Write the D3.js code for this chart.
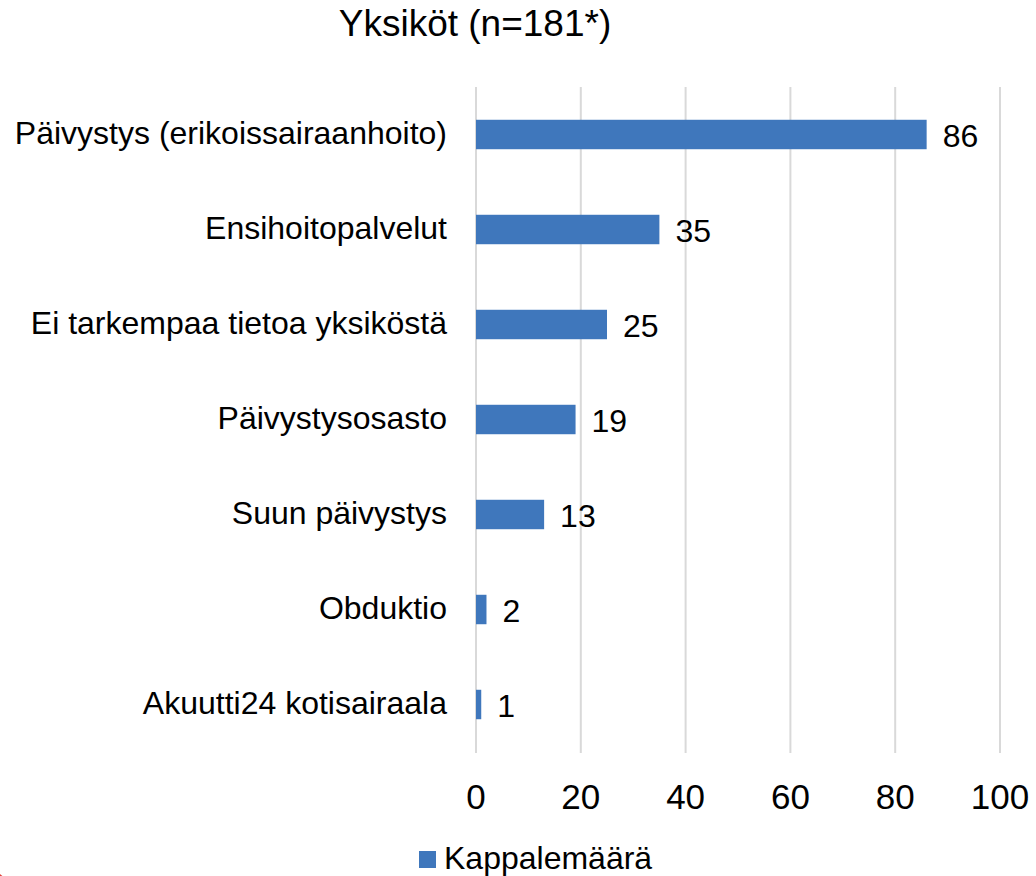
<!DOCTYPE html>
<html>
<head>
<meta charset="utf-8">
<script src="https://cdn.jsdelivr.net/npm/d3@7"></script>
<style>
  body { margin: 0; background: #fff; }
  svg { display: block; font-family: "Liberation Sans", Arial, sans-serif; }
</style>
</head>
<body>
<div id="chart"></div>
<script>
// Yksiköt: kappalemäärä per yksikkö
const categories = [
  'Päivystys (erikoissairaanhoito)',
  'Ensihoitopalvelut',
  'Ei tarkempaa tietoa yksiköstä',
  'Päivystysosasto',
  'Suun päivystys',
  'Obduktio',
  'Akuutti24 kotisairaala'
];
const counts = [86, 35, 25, 19, 13, 2, 1];
const xTicks = [0, 20, 40, 60, 80, 100];
const seriesName = 'Kappalemäärä';
const title = 'Yksiköt (n=181*)';

const width = 1036;
const height = 876;
const margin = { top: 87, right: 36, bottom: 124, left: 476 };
const barColour = '#3f77bc';

const svg = d3.select('#chart')
  .append('svg')
  .attr('width', width)
  .attr('height', height);

const x = d3.scaleLinear().domain([0, 100]).range([margin.left, width - margin.right]);
const y = d3.scaleBand().domain(categories).range([margin.top, height - margin.bottom]).paddingInner(0.69).paddingOuter(0.345);

// Gridlines
svg.append('g')
  .selectAll('line')
  .data(xTicks)
  .join('line')
  .attr('x1', d => x(d))
  .attr('x2', d => x(d))
  .attr('y1', margin.top)
  .attr('y2', height - margin.bottom + 1)
  .attr('stroke', '#d9d9d9')
  .attr('stroke-width', 2);

// Bars
const data = categories.map((c, i) => ({ cat: c, value: counts[i] }));
svg.append('g')
  .selectAll('rect')
  .data(data)
  .join('rect')
  .attr('x', x(0))
  .attr('y', d => y(d.cat))
  .attr('width', d => x(d.value) - x(0))
  .attr('height', y.bandwidth())
  .attr('fill', barColour);

// Value labels
svg.append('g')
  .selectAll('text')
  .data(data)
  .join('text')
  .attr('x', d => x(d.value) + 16)
  .attr('y', d => y(d.cat) + y.bandwidth() / 2)
  .attr('dy', '0.38em')
  .style('font-size', '32px')
  .style('fill', '#000')
  .text(d => d.value);

// Category labels
svg.append('g')
  .selectAll('text')
  .data(categories)
  .join('text')
  .attr('x', 447)
  .attr('y', d => y(d) + y.bandwidth() / 2)
  .attr('dy', '0.3em')
  .attr('text-anchor', 'end')
  .style('font-size', '32px')
  .style('fill', '#000')
  .text(d => d);

// X tick labels
svg.append('g')
  .selectAll('text')
  .data(xTicks)
  .join('text')
  .attr('x', d => x(d))
  .attr('y', 809)
  .attr('text-anchor', 'middle')
  .style('font-size', '35px')
  .style('fill', '#000')
  .text(d => d);

// Title
svg.append('text')
  .attr('x', 475)
  .attr('y', 36)
  .attr('text-anchor', 'middle')
  .style('font-size', '37px')
  .style('fill', '#000')
  .text(title);

// Legend
svg.append('rect')
  .attr('x', 419)
  .attr('y', 851)
  .attr('width', 17)
  .attr('height', 17)
  .attr('fill', barColour);
svg.append('text')
  .attr('x', 444)
  .attr('y', 869)
  .style('font-size', '32px')
  .style('fill', '#000')
  .text(seriesName);

// corner mark
svg.append('circle')
  .attr('cx', -12)
  .attr('cy', 890)
  .attr('r', 20)
  .attr('fill', '#e0433a');
</script>
</body>
</html>
